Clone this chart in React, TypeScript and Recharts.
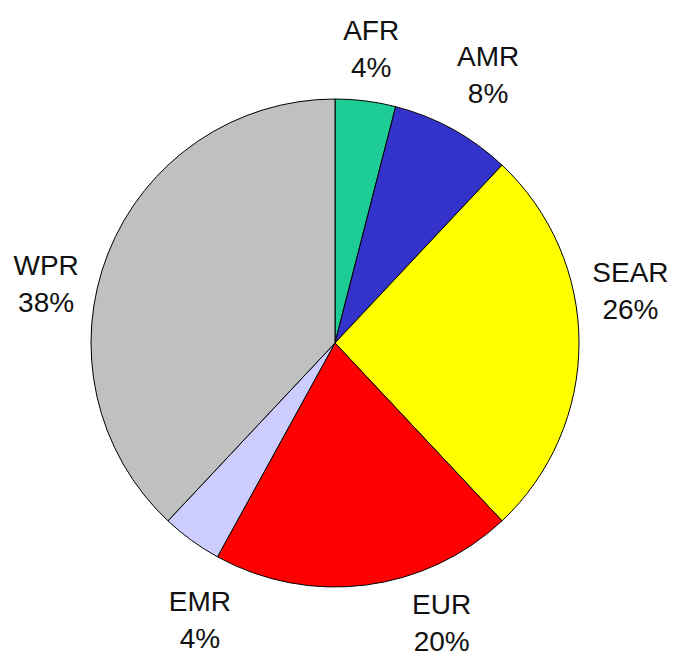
import { PieChart, Pie, Cell } from 'recharts';

const REGIONS = ['AFR', 'AMR', 'SEAR', 'EUR', 'EMR', 'WPR'];
const SHARES = [4, 8, 26, 20, 4, 38];
const COLORS = ['#1ECC96', '#3333CC', '#FFFF00', '#FF0000', '#CCCCFF', '#C0C0C0'];

const data = REGIONS.map((name, i) => ({ name, value: SHARES[i] }));

// label placement: [clockwise angle nudge in degrees, distance from centre]
const LABEL_POS: Record<string, [number, number]> = {
  AFR: [-0.2, 297],
  AMR: [0.9, 309],
  SEAR: [-10, 300],
  EUR: [-13.7, 299],
  EMR: [-10, 308],
  WPR: [-9.9, 295],
};

const RADIAN = Math.PI / 180;

function renderLabel(props: any) {
  const { cx, cy, midAngle, name, value } = props;
  const [nudge, dist] = LABEL_POS[name] ?? [0, 300];
  const a = (midAngle - nudge) * RADIAN;
  const x = cx + dist * Math.cos(-a);
  const y = cy + dist * Math.sin(-a);
  return (
    <text
      x={x}
      y={y}
      textAnchor="middle"
      fill="#111"
      style={{ fontFamily: 'Liberation Sans, Arial, sans-serif', fontSize: 28 }}
    >
      <tspan x={x} y={y - 8.5}>{name}</tspan>
      <tspan x={x} y={y + 28.5}>{`${value}%`}</tspan>
    </text>
  );
}

export default function App() {
  return (
    <div style={{ position: 'absolute', left: 0, top: 0, background: '#fff' }}>
      <PieChart width={674} height={658}>
        <Pie
          data={data}
          dataKey="value"
          nameKey="name"
          cx={330}
          cy={338}
          outerRadius={244}
          startAngle={90}
          endAngle={-270}
          stroke="#000"
          strokeWidth={1}
          label={renderLabel}
          labelLine={false}
          isAnimationActive={false}
        >
          {data.map((d, i) => (
            <Cell key={d.name} fill={COLORS[i]} />
          ))}
        </Pie>
      </PieChart>
    </div>
  );
}
